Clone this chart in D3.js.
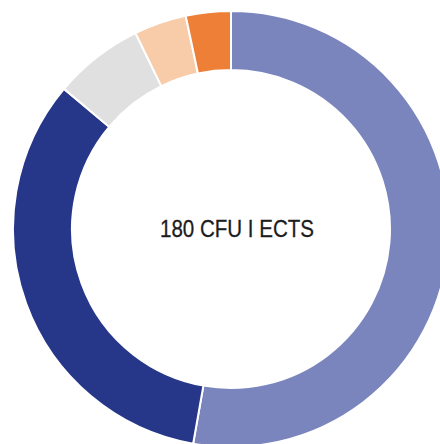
<!DOCTYPE html>
<html>
<head>
    <script src="https://cdnjs.cloudflare.com/ajax/libs/d3/7.8.5/d3.min.js"></script>
    <style>
        body { margin: 0; background: white; }
        svg { display: block; }
    </style>
</head>
<body>
    <script>
        // CFU split, clockwise from 12 o'clock
        var labels = ["A", "B", "C", "D", "E"];
        var values = [95, 60, 12, 7, 6];
        var colors = ["#7a85bd", "#26378a", "#e0e0e0", "#f8cba9", "#ee7f37"];
        var centerText = "180 CFU I ECTS";

        var width = 440, height = 444;
        var cx = 231, cy = 229;
        var outerR = 218, innerR = 159;

        var svg = d3.select("body").append("svg")
            .attr("width", width)
            .attr("height", height);

        var g = svg.append("g")
            .attr("transform", "translate(" + cx + "," + cy + ")");

        var data = labels.map(function (l, i) { return { label: l, value: values[i] }; });

        var pie = d3.pie()
            .sort(null)
            .value(d => d.value);

        var arc = d3.arc()
            .innerRadius(innerR)
            .outerRadius(outerR);

        g.selectAll("path")
            .data(pie(data))
            .enter()
            .append("path")
            .attr("d", arc)
            .attr("fill", (d, i) => colors[i])
            .attr("stroke", "white")
            .attr("stroke-width", 2);

        // condensed look: squeeze regular font into the measured width
        g.append("text")
            .attr("x", -71)
            .attr("y", 8)
            .attr("textLength", 154)
            .attr("lengthAdjust", "spacingAndGlyphs")
            .style("font-family", "'Liberation Sans', Arial, sans-serif")
            .style("font-size", "24px")
            .style("fill", "#1c1c1c")
            .style("stroke", "#1c1c1c")
            .style("stroke-width", 0.3)
            .text(centerText);
    </script>
</body>
</html>
